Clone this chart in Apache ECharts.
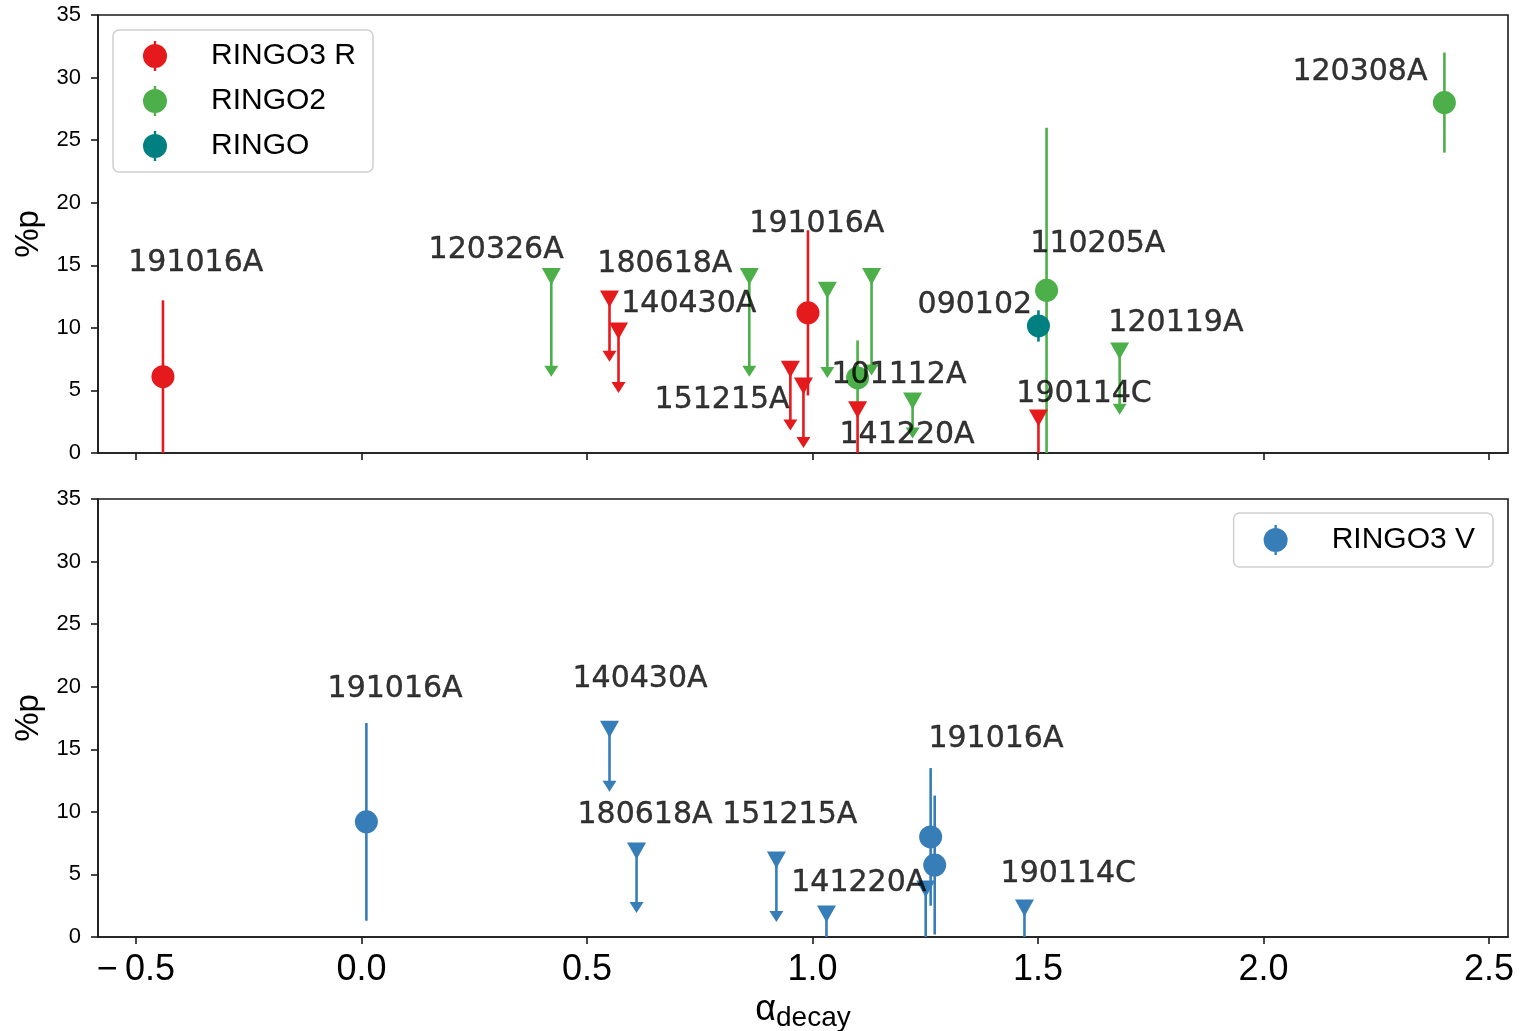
<!DOCTYPE html>
<html>
<head>
<meta charset="utf-8">
<script src="https://cdn.jsdelivr.net/npm/echarts@6/dist/echarts.min.js"></script>
<style>
  html, body { margin: 0; padding: 0; background: #ffffff; }
  #chart { width: 1524px; height: 1031px; }
</style>
</head>
<body>
<div id="chart"></div>
<script>
// Polarisation degree (%p) against the afterglow decay index alpha_decay.
// Top panel: R-band style polarimeters, bottom panel: RINGO3 V band.

const xTicks = [-0.5, 0, 0.5, 1, 1.5, 2, 2.5];

// ---- RINGO3 R ----
const r3rAlpha = [-0.44, 0.99];
const r3rP = [6.1, 11.2];
const r3rErr = [6.1, 6.6];
const r3rLimAlpha = [0.55, 0.57, 0.951, 0.98, 1.10, 1.501];
const r3rLimP = [12.3, 9.75, 6.7, 5.35, 3.45, 2.8];
const r3rLimDrop = [5.0, 4.95, 4.9, 4.95, 5.0, 5.0];

// ---- RINGO2 ----
const r2Alpha = [1.10, 1.519, 2.401];
const r2P = [6.0, 13.0, 28.0];
const r2Err = [3.0, 13.0, 4.0];
const r2LimAlpha = [0.421, 0.86, 1.033, 1.131, 1.222, 1.681];
const r2LimP = [14.1, 14.1, 13.0, 14.1, 4.15, 8.15];
const r2LimDrop = [8.0, 8.0, 7.0, 7.9, 3.0, 5.1];

// ---- RINGO ----
const r1Alpha = [1.501];
const r1P = [10.15];
const r1Err = [1.25];

// ---- RINGO3 V ----
const r3vAlpha = [0.011, 1.262, 1.271];
const r3vP = [9.2, 8.0, 5.75];
const r3vErr = [7.9, 5.5, 5.55];
const r3vLimAlpha = [0.55, 0.61, 0.92, 1.031, 1.251, 1.47];
const r3vLimP = [16.6, 6.87, 6.15, 1.84, 3.84, 2.32];
const r3vLimDrop = [5.0, 4.95, 4.95, 5.0, 5.0, 5.0];

// GRB name annotations (alpha_decay, %p of the text baseline start)
const topNames = ['191016A', '120326A', '180618A', '140430A', '151215A', '191016A', '110205A',
                  '090102', '101112A', '141220A', '190114C', '120119A', '120308A'];
const topNameAlpha = [-0.517, 0.149, 0.523, 0.576, 0.650, 0.860, 1.483, 1.233, 1.042, 1.060, 1.452, 1.656, 2.064];
const topNameP = [14.46, 15.5, 14.38, 11.19, 3.52, 17.58, 15.98, 11.11, 5.51, 0.72, 4.0, 9.67, 29.73];

const botNames = ['191016A', '140430A', '180618A', '151215A', '141220A', '191016A', '190114C'];
const botNameAlpha = [-0.075, 0.468, 0.479, 0.800, 0.953, 1.257, 1.417];
const botNameP = [19.1, 19.9, 9.03, 9.03, 3.6, 15.1, 4.32];

const C_R = '#e41a1c', C_G = '#4daf4a', C_T = '#008080', C_V = '#377eb8';
const INK = '#000000';
const AX = '#1a1a1a';
const SANS = "'Liberation Sans', Arial, sans-serif";
const LABEL_FONT = "'DejaVu Sans', sans-serif";

function points(a, p) { return a.map((x, i) => [x, p[i]]); }
function detBars(a, p, e) { return a.map((x, i) => [x, p[i] - e[i], p[i] + e[i], 0]); }
function limBars(a, p, d) { return a.map((x, i) => [x, p[i] - d[i], p[i], 1]); }
function notes(names, a, p) { return names.map((n, i) => ({ name: n, value: [a[i], p[i]] })); }

// vertical error bar; upper limits get a downward arrow head
function renderBar(params, api) {
  const cs = params.coordSys;
  const top = cs.y, bottom = cs.y + cs.height;
  const hi = api.coord([api.value(0), api.value(2)]);
  const lo = api.coord([api.value(0), api.value(1)]);
  const isLimit = api.value(3) === 1;
  const color = api.visual('color');
  const x = hi[0];
  const y1 = Math.max(hi[1], top);
  const y2 = Math.min(lo[1], bottom);
  const head = isLimit && lo[1] <= bottom;
  const kids = [{
    type: 'line',
    shape: { x1: x, y1: y1, x2: x, y2: head ? y2 - 6 : y2 },
    style: { stroke: color, lineWidth: 2.6 }
  }];
  if (head) {
    kids.push({
      type: 'polygon',
      shape: { points: [[x - 7, y2 - 11], [x + 7, y2 - 11], [x, y2]] },
      style: { fill: color }
    });
  }
  return { type: 'group', children: kids };
}

function barSeries(name, data, color, idx) {
  return {
    type: 'custom', name: name, renderItem: renderBar, data: data,
    xAxisIndex: idx, yAxisIndex: idx, itemStyle: { color: color },
    encode: { x: 0, y: [1, 2] }, z: 2, silent: true
  };
}
function dotSeries(name, data, color, idx) {
  return {
    type: 'scatter', name: name, data: data, xAxisIndex: idx, yAxisIndex: idx,
    symbol: 'circle', symbolSize: 23, itemStyle: { color: color, opacity: 1 },
    z: 3, silent: true
  };
}
function limSeries(name, data, color, idx) {
  return {
    type: 'scatter', name: name, data: data, xAxisIndex: idx, yAxisIndex: idx,
    symbol: 'triangle', symbolRotate: 180, symbolSize: [19, 17],
    itemStyle: { color: color, opacity: 1 }, z: 3, silent: true
  };
}
function noteSeries(name, data, idx) {
  return {
    type: 'scatter', name: name, data: data, xAxisIndex: idx, yAxisIndex: idx,
    symbolSize: 0, itemStyle: { color: 'transparent' }, z: 10, silent: true,
    label: {
      show: true, formatter: '{b}', position: [0, 0], align: 'left', verticalAlign: 'middle',
      offset: [0, -9], fontFamily: LABEL_FONT, fontSize: 30, color: INK,
      textBorderColor: INK, textBorderWidth: 0.4
    }
  };
}

const legendIcon = 'path://M0,15 A12,12 0 1,1 24,15 A12,12 0 1,1 0,15 Z M10.8,0 L13.2,0 L13.2,30 L10.8,30 Z';

function xAxisDef(idx, showLabels) {
  return {
    type: 'value', gridIndex: idx, min: -0.584, max: 2.542,
    splitLine: { show: false },
    axisLine: { show: true, onZero: false, lineStyle: { color: AX, width: 1.6 } },
    axisTick: { show: true, customValues: xTicks, length: 7, lineStyle: { color: AX, width: 1.6 } },
    axisLabel: {
      show: showLabels, customValues: xTicks, margin: 15,
      fontFamily: SANS, fontSize: 36, color: INK,
      formatter: v => (v < 0 ? '\u2212\u2009' + Math.abs(v).toFixed(1) : v.toFixed(1))
    },
    name: showLabels ? '{a|\u03b1}{s|decay}' : '',
    nameLocation: 'middle', nameGap: 27,
    nameTextStyle: {
      rich: {
        a: { fontFamily: SANS, fontSize: 36, lineHeight: 40, color: INK },
        s: { fontFamily: SANS, fontSize: 28, lineHeight: 28, padding: [15, 0, 0, 0], color: INK }
      }
    }
  };
}
function yAxisDef(idx) {
  return {
    type: 'value', gridIndex: idx, min: 0, max: 35, interval: 5,
    splitLine: { show: false },
    axisLine: { show: true, onZero: false, lineStyle: { color: AX, width: 1.6 } },
    axisTick: { show: true, length: 7, lineStyle: { color: AX, width: 1.6 } },
    axisLabel: { margin: 17, fontFamily: SANS, fontSize: 22, color: INK },
    name: '%p', nameLocation: 'middle', nameGap: 52,
    nameTextStyle: { fontFamily: SANS, fontSize: 33, color: INK }
  };
}

const legendBase = {
  orient: 'vertical', itemWidth: 24, itemHeight: 30, itemGap: 15, icon: legendIcon,
  backgroundColor: '#ffffff', borderColor: '#cfcfcf', borderWidth: 1.5, borderRadius: 6,
  selectedMode: false, z: 20,
  textStyle: { fontFamily: SANS, fontSize: 30, color: INK, padding: [0, 0, 0, 39] }
};

const chart = echarts.init(document.getElementById('chart'), null, { renderer: 'canvas' });
chart.setOption({
  animation: false,
  backgroundColor: '#ffffff',
  grid: [
    { left: 98, top: 15, width: 1410, height: 438, show: true, borderColor: AX, borderWidth: 1.6, outerBoundsMode: 'none', containLabel: false },
    { left: 98, top: 499, width: 1410, height: 438, show: true, borderColor: AX, borderWidth: 1.6, outerBoundsMode: 'none', containLabel: false }
  ],
  xAxis: [xAxisDef(0, false), xAxisDef(1, true)],
  yAxis: [yAxisDef(0), yAxisDef(1)],
  legend: [
    Object.assign({}, legendBase, { data: ['RINGO3 R', 'RINGO2', 'RINGO'], left: 113, top: 30, padding: [11, 17, 11, 30] }),
    Object.assign({}, legendBase, { data: ['RINGO3 V'], right: 31, top: 513, padding: [12, 18, 12, 30] })
  ],
  series: [
    dotSeries('RINGO3 R', points(r3rAlpha, r3rP), C_R, 0),
    dotSeries('RINGO2', points(r2Alpha, r2P), C_G, 0),
    dotSeries('RINGO', points(r1Alpha, r1P), C_T, 0),
    dotSeries('RINGO3 V', points(r3vAlpha, r3vP), C_V, 1),

    barSeries('RINGO3 R bars', detBars(r3rAlpha, r3rP, r3rErr).concat(limBars(r3rLimAlpha, r3rLimP, r3rLimDrop)), C_R, 0),
    limSeries('RINGO3 R limits', points(r3rLimAlpha, r3rLimP), C_R, 0),
    barSeries('RINGO2 bars', detBars(r2Alpha, r2P, r2Err).concat(limBars(r2LimAlpha, r2LimP, r2LimDrop)), C_G, 0),
    limSeries('RINGO2 limits', points(r2LimAlpha, r2LimP), C_G, 0),
    barSeries('RINGO bars', detBars(r1Alpha, r1P, r1Err), C_T, 0),

    barSeries('RINGO3 V bars', detBars(r3vAlpha, r3vP, r3vErr).concat(limBars(r3vLimAlpha, r3vLimP, r3vLimDrop)), C_V, 1),
    limSeries('RINGO3 V limits', points(r3vLimAlpha, r3vLimP), C_V, 1),

    noteSeries('top names', notes(topNames, topNameAlpha, topNameP), 0),
    noteSeries('bottom names', notes(botNames, botNameAlpha, botNameP), 1)
  ]
});
</script>
</body>
</html>
